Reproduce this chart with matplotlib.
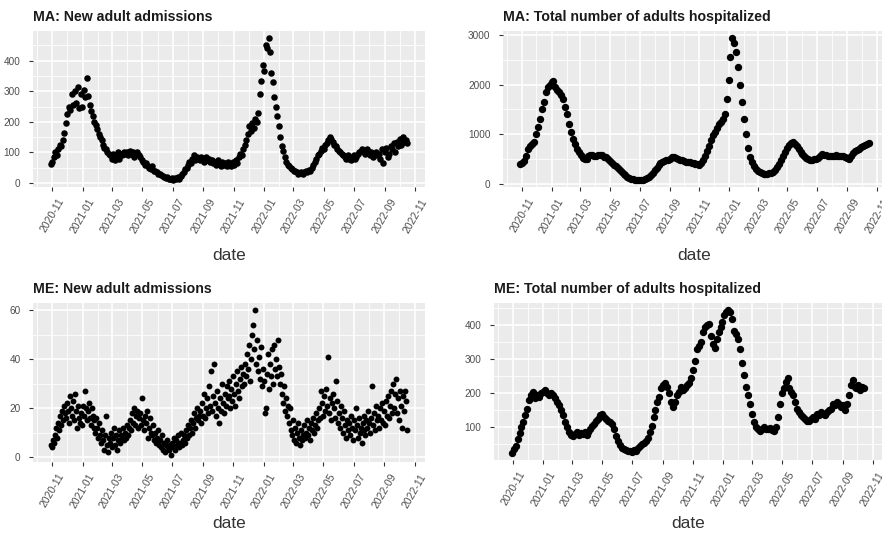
import pandas as pd
import matplotlib
matplotlib.use("Agg")
import matplotlib.pyplot as plt
import matplotlib.dates as mdates
from matplotlib.ticker import AutoMinorLocator, MultipleLocator

plt.rcParams['font.family'] = ['Liberation Sans', 'DejaVu Sans']

# first day of every series
start = '2020-10-29'

# MA: new adult admissions, one value every 3 days
ma_new = [
    62, 70, 85, 100, 92, 110, 125, 120, 140, 165,
    195, 225, 250, 240, 290, 255, 300, 260, 315, 245,
    290, 250, 305, 280, 345, 285, 255, 235, 220, 200,
    190, 175, 160, 150, 140, 125, 115, 110, 100, 95,
    90, 80, 95, 75, 85, 100, 80, 95, 90, 100,
    95, 100, 90, 105, 95, 100, 85, 95, 100, 90,
    85, 75, 70, 60, 65, 55, 50, 45, 55, 40,
    40, 35, 30, 28, 25, 22, 20, 15, 18, 12,
    12, 16, 10, 15, 12, 18, 14, 22, 28, 35,
    45, 50, 60, 70, 65, 80, 90, 75, 85, 80,
    75, 85, 80, 70, 85, 75, 80, 70, 75, 65,
    70, 60, 75, 65, 55, 70, 60, 65, 55, 70,
    60, 55, 70, 60, 75, 65, 85, 95, 90, 110,
    125, 140, 160, 185, 170, 195, 180, 210, 200, 230,
    290, 335, 385, 365, 450, 440, 474, 430, 360, 330,
    280, 250, 220, 185, 150, 120, 105, 85, 70, 60,
    55, 50, 45, 40, 38, 35, 30, 33, 35, 30,
    35, 38, 35, 42, 40, 50, 60, 70, 80, 90,
    95, 105, 115, 110, 125, 130, 140, 150, 145, 135,
    125, 120, 110, 105, 100, 95, 90, 85, 80, 90,
    80, 75, 85, 90, 80, 85, 95, 100, 105, 110,
    100, 95, 110, 105, 90, 100, 85, 95, 100, 90,
    95, 80, 110, 65, 100, 115, 85, 95, 120, 110,
    130, 100, 135, 120, 145, 125, 150, 135, 140, 130,
]

# MA: total adults hospitalized, one value every 4 days
ma_total = [
    400, 410, 450, 560, 700, 760, 800, 850, 1000, 1150,
    1300, 1500, 1650, 1850, 1950, 2000, 2050, 2080, 1950, 1900,
    1850, 1800, 1700, 1550, 1400, 1200, 1050, 900, 800, 700,
    640, 580, 520, 490, 500, 550, 570, 580, 560, 565,
    570, 580, 570, 540, 530, 500, 460, 420, 380, 350,
    320, 280, 240, 200, 170, 140, 120, 100, 90, 80,
    80, 75, 78, 80, 90, 110, 140, 180, 220, 270,
    320, 370, 410, 440, 460, 470, 480, 500, 530, 540,
    520, 500, 480, 470, 450, 440, 430, 430, 420, 410,
    400, 390, 385, 410, 480, 560, 650, 760, 880, 980,
    1050, 1120, 1200, 1250, 1300, 1400, 1700, 2100, 2550, 2940,
    2850, 2650, 2350, 2000, 1650, 1300, 1000, 720, 540, 430,
    360, 300, 260, 230, 210, 200, 195, 200, 205, 215,
    240, 280, 330, 400, 470, 550, 640, 720, 790, 830,
    840, 800, 760, 700, 640, 590, 550, 510, 490, 480,
    480, 490, 500, 520, 560, 590, 580, 570, 560, 560,
    550, 560, 570, 555, 560, 550, 560, 540, 520, 500,
    560, 620, 650, 680, 700, 730, 760, 790, 810, 830,
]

# ME: new adult admissions, one value every 2 days
me_new = [
    5, 4, 7, 6, 9, 12, 8, 14, 11, 17, 13, 19, 15, 21, 18,
    16, 22, 19, 14, 25, 20, 17, 23, 15, 26, 19, 12, 21, 16, 14,
    18, 13, 21, 17, 27, 20, 15, 19, 22, 16, 13, 20, 17, 12, 15,
    10, 16, 12, 8, 14, 9, 6, 11, 7, 3, 9, 17, 5, 2, 8,
    6, 10, 4, 8, 12, 5, 9, 3, 7, 11, 6, 9, 8, 12, 7,
    10, 8, 13, 9, 12, 15, 11, 18, 14, 20, 13, 17, 19, 12, 16,
    18, 13, 24, 15, 11, 17, 14, 19, 8, 12, 16, 10, 9, 13, 7,
    10, 6, 8, 11, 5, 7, 4, 9, 3, 6, 2, 5, 7, 4, 3,
    5, 1, 6, 4, 8, 3, 7, 5, 9, 4, 6, 10, 5, 7, 9,
    6, 11, 8, 13, 9, 12, 15, 10, 14, 18, 12, 16, 20, 15, 17,
    19, 14, 22, 17, 26, 16, 20, 24, 18, 29, 21, 35, 19, 25, 38,
    22, 17, 27, 20, 14, 24, 19, 30, 22, 18, 26, 21, 29, 24, 31,
    25, 20, 28, 23, 33, 26, 21, 30, 35, 27, 24, 32, 37, 29, 34,
    30, 38, 33, 42, 36, 46, 31, 40, 50, 54, 44, 60, 38, 48, 35,
    41, 32, 45, 29, 36, 31, 18, 20, 34, 42, 28, 38, 33, 44, 30,
    46, 36, 40, 33, 48, 37, 30, 34, 26, 22, 29, 19, 24, 17, 21,
    14, 20, 11, 9, 15, 7, 12, 6, 10, 14, 8, 5, 11, 7, 9,
    13, 8, 10, 15, 9, 12, 7, 14, 11, 16, 10, 13, 18, 12, 15,
    20, 16, 27, 22, 17, 25, 19, 28, 21, 41, 18, 24, 15, 22, 26,
    20, 16, 31, 23, 14, 18, 12, 21, 16, 10, 19, 13, 8, 15, 11,
    14, 9, 17, 12, 7, 15, 11, 20, 13, 8, 16, 10, 12, 6, 14,
    11, 17, 9, 15, 12, 19, 14, 10, 16, 29, 13, 18, 11, 21, 15,
    17, 12, 20, 15, 22, 14, 19, 13, 23, 17, 25, 16, 21, 27, 18,
    30, 20, 26, 32, 18, 24, 15, 27, 21, 12, 25, 19, 27, 23, 11,
]

# ME: total adults hospitalized, one value every 4 days
me_total = [
    25, 35, 45, 65, 82, 100, 115, 135, 155, 180,
    195, 205, 185, 195, 190, 200, 205, 210, 200, 195,
    200, 195, 185, 175, 165, 150, 135, 115, 100, 85,
    78, 75, 80, 85, 78, 82, 80, 85, 78, 85,
    95, 105, 110, 120, 125, 135, 140, 130, 125, 120,
    115, 110, 95, 75, 60, 48, 40, 35, 32, 30,
    30, 28, 32, 30, 38, 45, 50, 55, 60, 70,
    85, 105, 130, 150, 175, 190, 215, 225, 230, 220,
    200, 175, 160, 175, 195, 205, 220, 210, 215, 225,
    230, 245, 270, 295, 330, 340, 350, 380, 395, 400,
    405, 370, 345, 335, 360, 380, 395, 410, 430, 440,
    445, 440, 420, 385, 375, 360, 330, 290, 255, 220,
    195, 170, 140, 115, 100, 95, 90, 95, 100, 95,
    95, 98, 92, 88, 100, 130, 170, 200, 215, 235,
    245, 215, 205, 195, 175, 155, 145, 135, 130, 125,
    120, 118, 125, 130, 125, 140, 135, 145, 140, 135,
    145, 150, 155, 170, 165, 175, 170, 160, 165, 150,
    170, 195, 225, 240, 220, 215, 225, 210, 220, 215,
]

panels = [
    ("MA: New adult admissions", ma_new, '3D', 100),
    ("MA: Total number of adults hospitalized", ma_total, '4D', 1000),
    ("ME: New adult admissions", me_new, '2D', 20),
    ("ME: Total number of adults hospitalized", me_total, '4D', 100),
]
sizes = [22, 28, 18, 28]

# panel boxes in pixels: left, top, right, bottom
boxes = [
    (33, 31, 425, 187),
    (503, 31, 886, 187),
    (33, 303, 425, 462),
    (494, 303, 882, 460),
]

W, H = 882, 533
fig = plt.figure(figsize=(W / 100, H / 100), dpi=100)

for (title, vals, step, ystep), (l, t, r, b), sz in zip(panels, boxes, sizes):
    ax = fig.add_axes([l / W, 1 - b / H, (r - l) / W, (b - t) / H])
    dates = pd.date_range(start, periods=len(vals), freq=step)
    ax.scatter(dates, vals, s=sz, color='black', linewidths=0, zorder=3)

    ax.set_facecolor('#EBEBEB')
    for sp in ax.spines.values():
        sp.set_visible(False)
    ax.margins(x=0.05, y=0.05)

    ax.xaxis.set_major_locator(mdates.MonthLocator(bymonth=[1, 3, 5, 7, 9, 11]))
    ax.xaxis.set_minor_locator(mdates.MonthLocator(bymonth=[2, 4, 6, 8, 10, 12]))
    ax.xaxis.set_major_formatter(mdates.DateFormatter('%Y-%m'))
    ax.yaxis.set_major_locator(MultipleLocator(ystep))
    ax.yaxis.set_minor_locator(AutoMinorLocator(2))

    ax.grid(which='major', color='white', linewidth=1.2)
    ax.grid(which='minor', color='white', linewidth=0.6)
    ax.set_axisbelow(True)

    ax.tick_params(which='major', length=3, width=0.8, color='#333333',
                   labelcolor='#4D4D4D')
    ax.tick_params(axis='y', labelsize=7.2, pad=6)
    ax.tick_params(axis='x', labelsize=7.5, pad=4)
    ax.tick_params(which='minor', length=0)
    for lab in ax.get_xticklabels():
        lab.set_rotation(60)
        lab.set_ha('center')

    ax.set_title(title, loc='left', fontsize=10.2, fontweight='bold',
                 color='#1a1a1a', pad=7)
    ax.set_xlabel('date', fontsize=12.5, color='#333333')
    ax.xaxis.label.set_va('center')
    ax.xaxis.set_label_coords(0.5, -(255 - 187) / (b - t) if t < 200 else -(523 - b) / (b - t))

fig.savefig('out.png', dpi=100)
